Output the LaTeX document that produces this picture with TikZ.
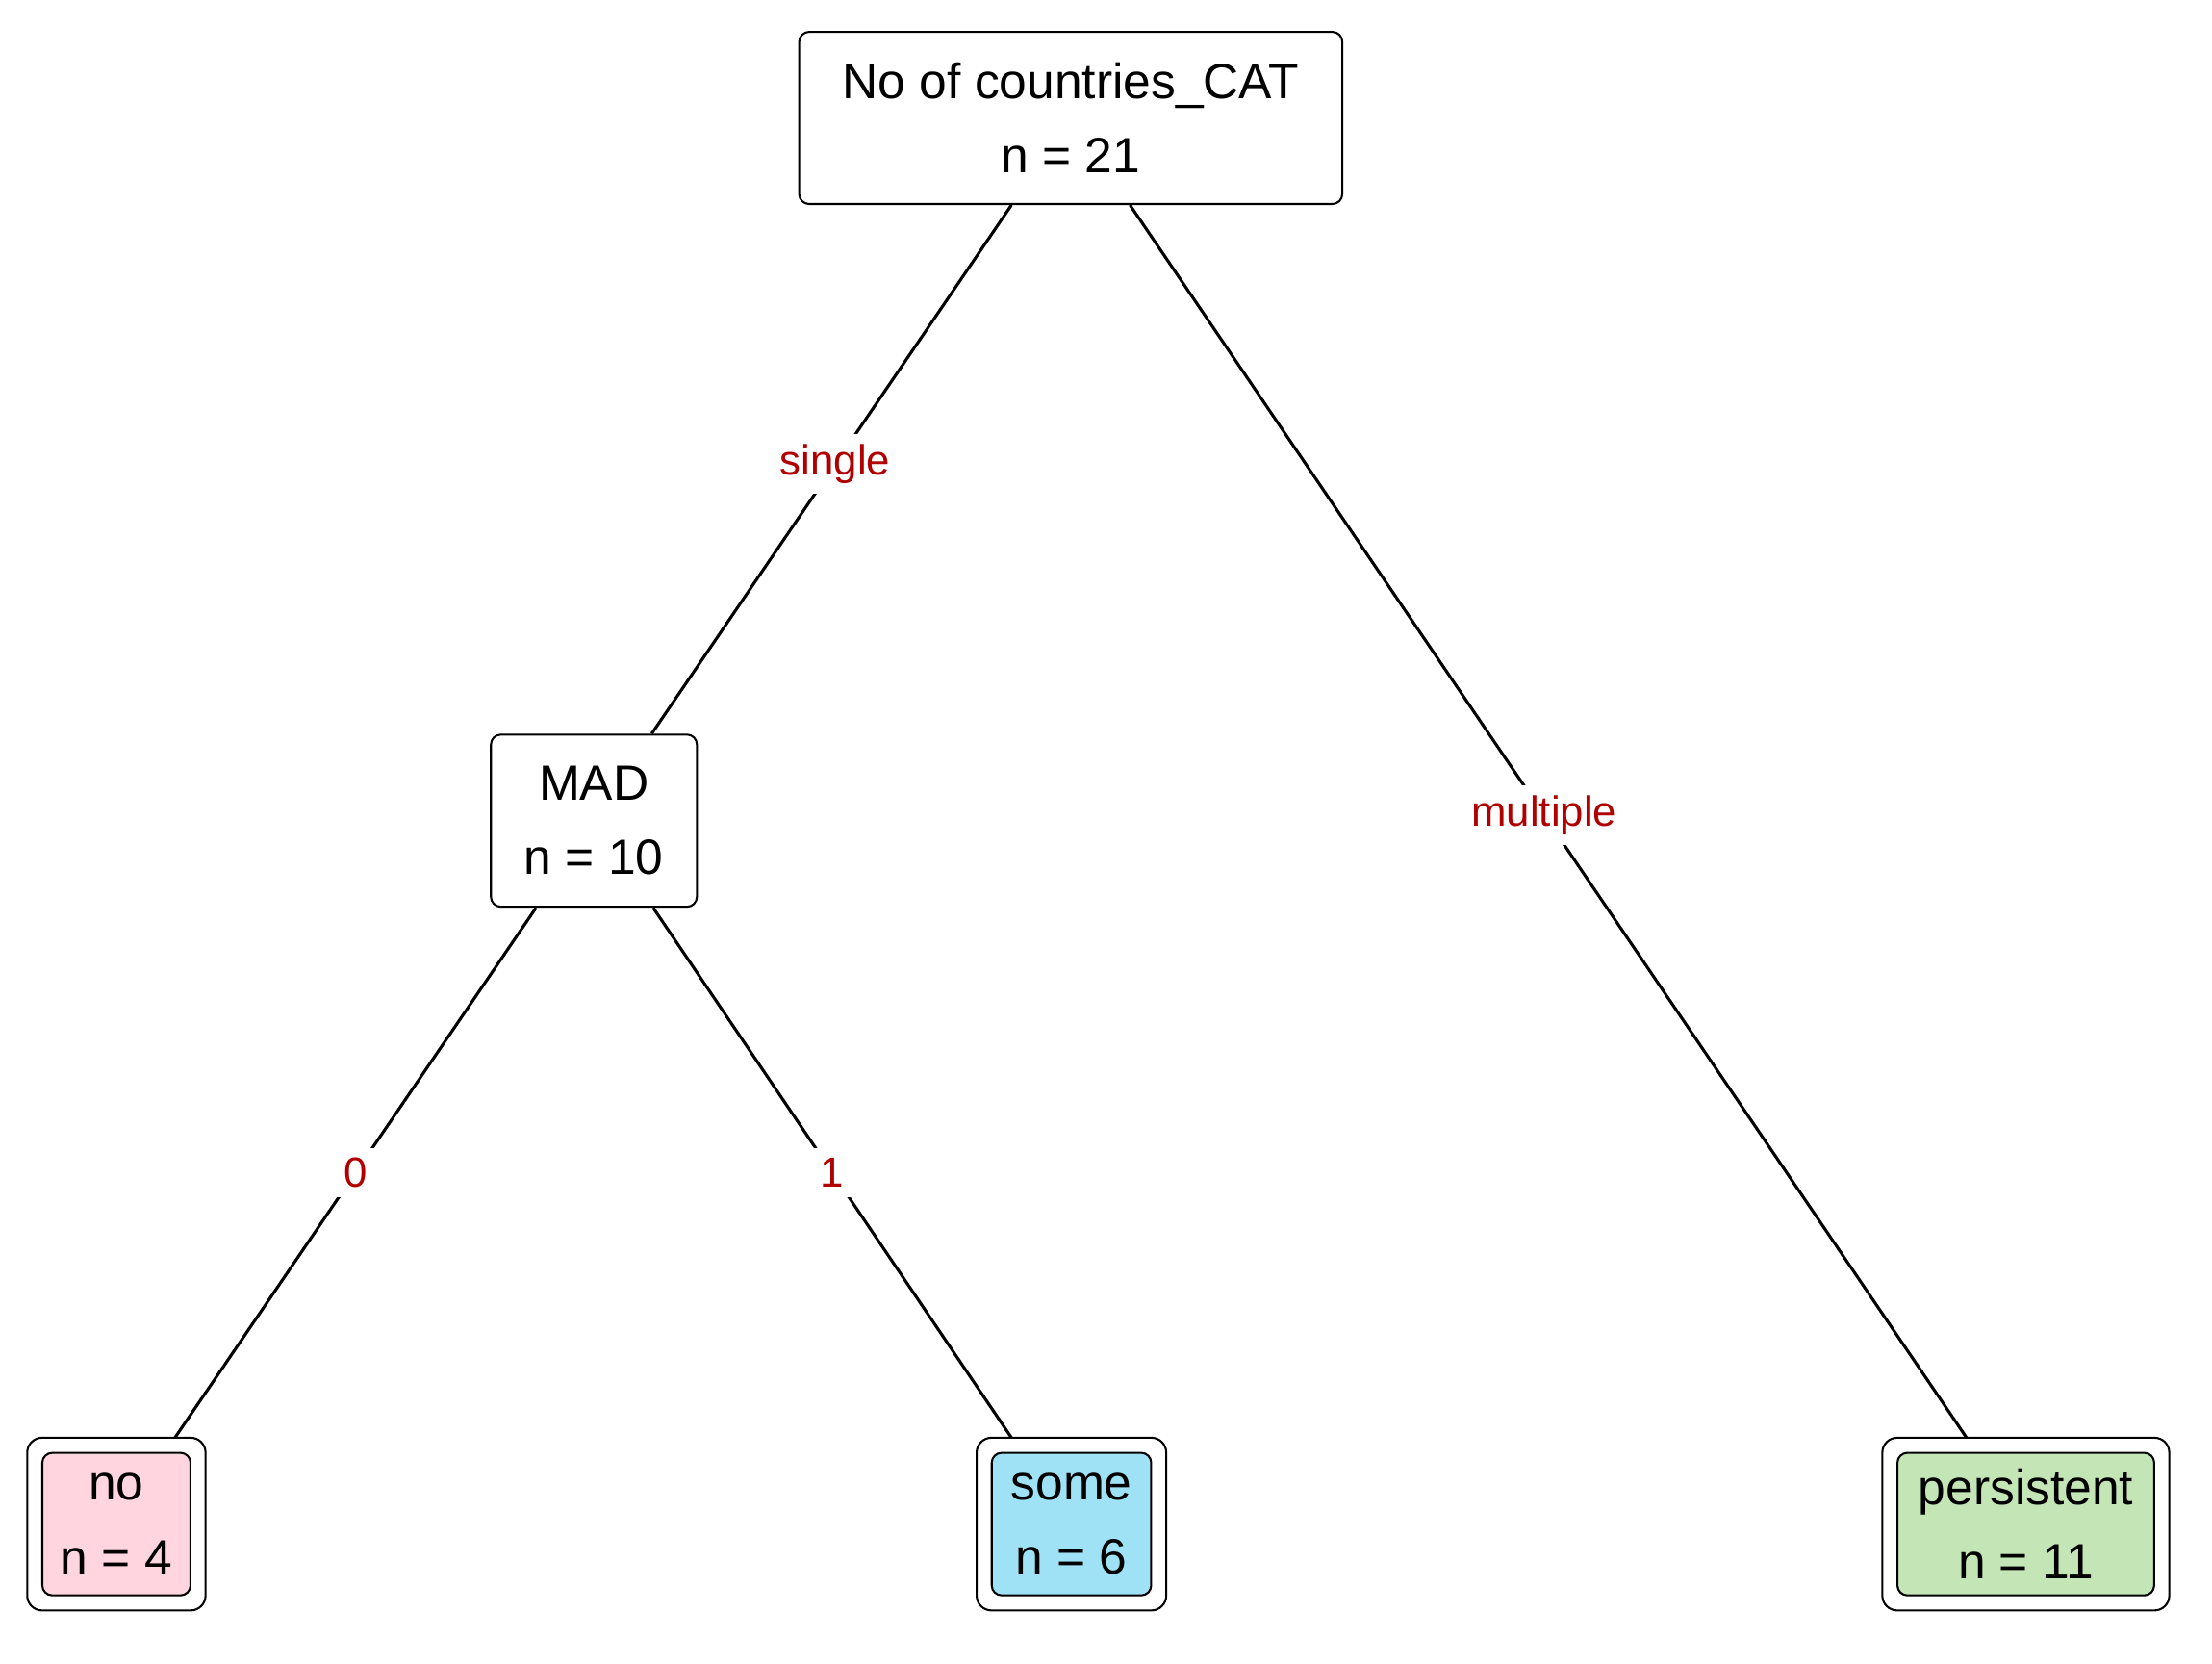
\documentclass[tikz,border=0pt]{standalone}
\usepackage{fontspec}
\setmainfont{Liberation Sans}
\usetikzlibrary{positioning}
\definecolor{noCol}{HTML}{FFD5DF}
\definecolor{someCol}{HTML}{9FE2F5}
\definecolor{persCol}{HTML}{C4E5B5}
\definecolor{edgeRed}{HTML}{B00000}
\tikzset{
	split/.style={draw=black, thin, rounded corners=2pt, align=center, font=\fontsize{10}{15}\selectfont, inner sep=0pt},
	leaf/.style={draw=black, thin, rounded corners=2pt, align=center, font=\fontsize{10}{15}\selectfont, inner sep=0pt, fill=#1},
	branch/.style={draw=black, semithick},
	lbl/.style={fill=white, text=edgeRed, font=\fontsize{8.5}{10}\selectfont, inner sep=2pt}
}
\begin{document}
\begin{tikzpicture}
	\useasboundingbox (0,0) rectangle (15.68,11.786);
	\node[split, minimum width=3.85cm, minimum height=1.22cm] (root) at (7.59,10.95) {No of countries\_CAT\\n = 21};
	\node[split, minimum width=1.46cm, minimum height=1.22cm] (mad) at (4.21,5.97) {MAD\\n = 10};
	\node[leaf=noCol, minimum width=1.05cm, minimum height=1.01cm] (no) at (0.825,0.985) {no\\n = 4};
	\node[leaf=someCol, minimum width=1.13cm, minimum height=1.01cm] (some) at (7.595,0.985) {some\\n = 6};
	\node[leaf=persCol, minimum width=1.82cm, minimum height=1.01cm] (pers) at (14.36,0.985) {persistent\\n = 11};
	% outer frames of the leaves
	\foreach \leafname in {no, some, pers}
		\draw[thin, rounded corners=3pt] ([shift={(-0.1,-0.1)}]\leafname.south west) rectangle ([shift={(0.1,0.1)}]\leafname.north east);
	\coordinate (noTop) at ([xshift=0.415cm, yshift=0.1cm]no.north);
	\coordinate (someTop) at ([xshift=-0.425cm, yshift=0.1cm]some.north);
	\coordinate (persTop) at ([xshift=-0.42cm, yshift=0.1cm]pers.north);
	\draw[branch] ([xshift=-0.42cm]root.south) -- node[lbl, pos=0.49] {single} ([xshift=0.41cm]mad.north);
	\draw[branch] ([xshift=0.42cm]root.south) -- node[lbl, pos=0.495] {multiple} (persTop);
	\draw[branch] ([xshift=-0.41cm]mad.south) -- node[lbl, pos=0.5] {0} (noTop);
	\draw[branch] ([xshift=0.42cm]mad.south) -- node[lbl, pos=0.5] {1} (someTop);
\end{tikzpicture}
\end{document}
